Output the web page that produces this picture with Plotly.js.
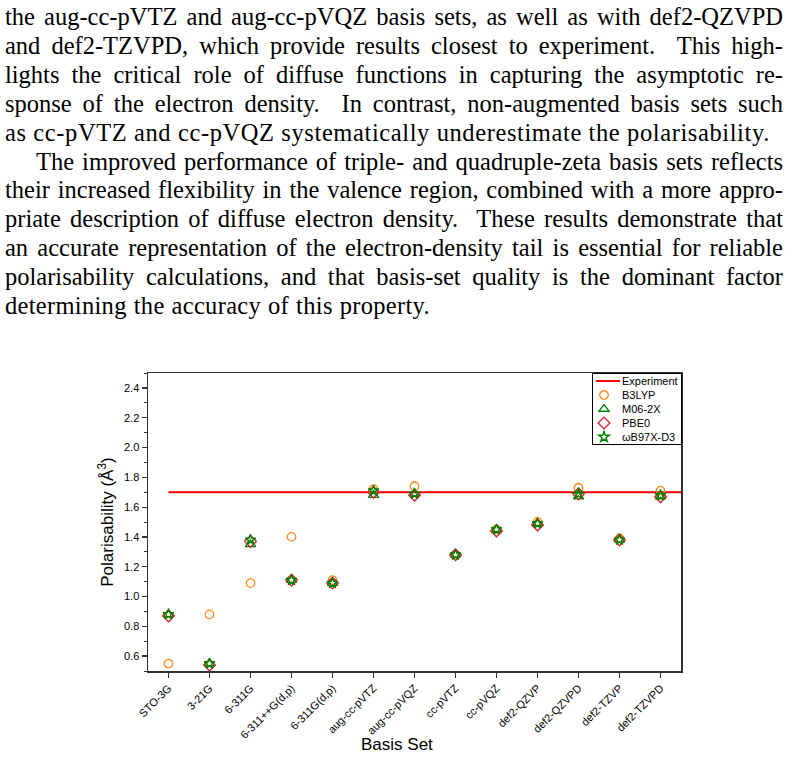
<!DOCTYPE html>
<html>
<head>
<meta charset="utf-8">
<script src="https://cdn.plot.ly/plotly-3.0.1.min.js"></script>
<style>
  html, body { margin: 0; padding: 0; background: #fff; }
  body { width: 789px; height: 759px; position: relative; overflow: hidden; }
  #chart { position: absolute; left: 0; top: 0; width: 789px; height: 759px; }
  #text { position: absolute; left: 5px; top: 3px; width: 778px; z-index: 5;
          font-family: "Liberation Serif", "DejaVu Serif", serif; font-size: 24.5px;
          line-height: 28.9px; color: #000; letter-spacing: 0; }
  .j { text-align: justify; text-align-last: justify; white-space: nowrap; }
  .ind { text-indent: 31px; }
  .w5 { width: 747px; letter-spacing: 0.6px; }
  .w11 { width: 425px; letter-spacing: 0.3px; }
</style>
</head>
<body>
<div id="text">
  <div class="j">the aug-cc-pVTZ and aug-cc-pVQZ basis sets, as well as with def2-QZVPD</div>
  <div class="j">and def2-TZVPD, which provide results closest to experiment.&nbsp; This high-</div>
  <div class="j">lights the critical role of diffuse functions in capturing the asymptotic re-</div>
  <div class="j">sponse of the electron density.&nbsp; In contrast, non-augmented basis sets such</div>
  <div class="j w5">as cc-pVTZ and cc-pVQZ systematically underestimate the polarisability.</div>
  <div class="j ind">The improved performance of triple- and quadruple-zeta basis sets reflects</div>
  <div class="j">their increased flexibility in the valence region, combined with a more appro-</div>
  <div class="j">priate description of diffuse electron density.&nbsp; These results demonstrate that</div>
  <div class="j">an accurate representation of the electron-density tail is essential for reliable</div>
  <div class="j">polarisability calculations, and that basis-set quality is the dominant factor</div>
  <div class="j w11">determining the accuracy of this property.</div>
</div>
<div id="chart"></div>
<script>
const categories = ["STO-3G", "3-21G", "6-311G", "6-311++G(d,p)", "6-311G(d,p)", "aug-cc-pVTZ",
  "aug-cc-pVQZ", "cc-pVTZ", "cc-pVQZ", "def2-QZVP", "def2-QZVPD", "def2-TZVP", "def2-TZVPD"];
const experiment = 1.70;
const b3lyp  = [0.55, 0.88, 1.09, 1.40, 1.11, 1.72, 1.74, 1.28, 1.45, 1.50, 1.73, 1.39, 1.71];
const m062x  = [0.88, 0.55, 1.35, 1.11, 1.09, 1.68, 1.69, 1.28, 1.45, 1.49, 1.67, 1.38, 1.67];
const pbe0   = [0.87, 0.54, 1.37, 1.11, 1.09, 1.70, 1.68, 1.28, 1.44, 1.48, 1.69, 1.38, 1.67];
const wb97xd3 = [0.88, 0.55, 1.38, 1.11, 1.09, 1.71, 1.69, 1.28, 1.45, 1.49, 1.69, 1.38, 1.68];
const yTicks = [0.6, 0.8, 1.0, 1.2, 1.4, 1.6, 1.8, 2.0, 2.2, 2.4];

const idx = categories.map((_, i) => i);
const font = "Liberation Sans, Arial, sans-serif";

const traces = [
  { x: [0, categories.length - 0.5], y: [experiment, experiment], mode: "lines", name: "Experiment",
    line: { color: "#ff0000", width: 2 } },
  { x: idx, y: b3lyp, mode: "markers", name: "B3LYP",
    marker: { symbol: "circle-open", size: 8.5, color: "#ff8c1a", line: { width: 1.3 } } },
  { x: idx, y: m062x, mode: "markers", name: "M06-2X",
    marker: { symbol: "triangle-up-open", size: 9, color: "#008000", line: { width: 1.3 } } },
  { x: idx, y: pbe0, mode: "markers", name: "PBE0",
    marker: { symbol: "diamond-open", size: 9, color: "#e0202a", line: { width: 1.3 } } },
  { x: idx, y: wb97xd3, mode: "markers", name: "ωB97X-D3",
    marker: { symbol: "star-open", size: 8, color: "#008000", line: { width: 1.4 } } }
];

const layout = {
  width: 789, height: 759,
  margin: { l: 148, r: 108, t: 373, b: 88, pad: 0 },
  paper_bgcolor: "rgba(0,0,0,0)", plot_bgcolor: "#fff",
  font: { family: font, size: 11, color: "#000" },
  showlegend: true,
  legend: { x: 1, y: 1, xanchor: "right", yanchor: "top", bgcolor: "#fff",
    bordercolor: "#000", borderwidth: 1, font: { family: font, size: 11 },
    tracegroupgap: 0, itemwidth: 30 },
  xaxis: {
    range: [-0.5, categories.length - 0.5], tickmode: "array", tickvals: idx, ticktext: categories,
    tickangle: -45, ticks: "outside", ticklen: 5, tickwidth: 1.2, tickcolor: "#333",
    showline: true, linecolor: "#333", linewidth: 1.5, mirror: true, showgrid: false, zeroline: false,
    tickfont: { family: font, size: 11 }
  },
  yaxis: {
    range: [0.5, 2.5], tickmode: "array", tickvals: yTicks,
    ticktext: yTicks.map(v => v.toFixed(1)),
    ticks: "outside", ticklen: 5, tickwidth: 1.2, tickcolor: "#333",
    minor: { dtick: 0.1, tick0: 0.5, ticks: "outside", ticklen: 3, tickcolor: "#333", tickwidth: 1 },
    showline: true, linecolor: "#333", linewidth: 1.5, mirror: true, showgrid: false, zeroline: false,
    tickfont: { family: font, size: 11 },
    title: { text: "Polarisability (Å<sup>3</sup>)", font: { family: font, size: 17 }, standoff: 6 }
  },
  annotations: [
    { text: "Basis Set", xref: "paper", yref: "paper", x: 0.467, y: -0.248,
      xanchor: "center", yanchor: "middle", showarrow: false, font: { family: font, size: 17 } }
  ]
};

Plotly.newPlot("chart", traces, layout, { displayModeBar: false, staticPlot: true }).then(() => {
  // compact the legend to match the reference box (item pitch 14px)
  const leg = document.querySelector(".legend");
  if (!leg) return;
  const items = leg.querySelectorAll("g.traces");
  let maxText = 0;
  items.forEach((g, i) => {
    g.setAttribute("transform", "translate(1," + (8 + 14 * i) + ")");
    g.querySelectorAll(".legendlines path").forEach(p => p.setAttribute("d", "M3,0h24"));
    g.querySelectorAll(".legendpoints path.scatterpts").forEach(p => p.setAttribute("transform", "translate(11,0)"));
    g.querySelectorAll("text.legendtext").forEach(t => {
      t.setAttribute("x", 29);
      maxText = Math.max(maxText, t.getBBox().width);
    });
    g.querySelectorAll("rect.legendtoggle").forEach(r => r.setAttribute("width", 80));
  });
  const w = Math.round(29 + maxText + 4), h = 71;
  leg.querySelectorAll("rect.bg").forEach(r => { r.setAttribute("width", w); r.setAttribute("height", h); });
  leg.querySelectorAll(".scrollbox").forEach(s => s.removeAttribute("clip-path"));
  leg.removeAttribute("clip-path");
  leg.setAttribute("transform", "translate(" + (681 - w) + ",373)");
});
</script>
</body>
</html>
